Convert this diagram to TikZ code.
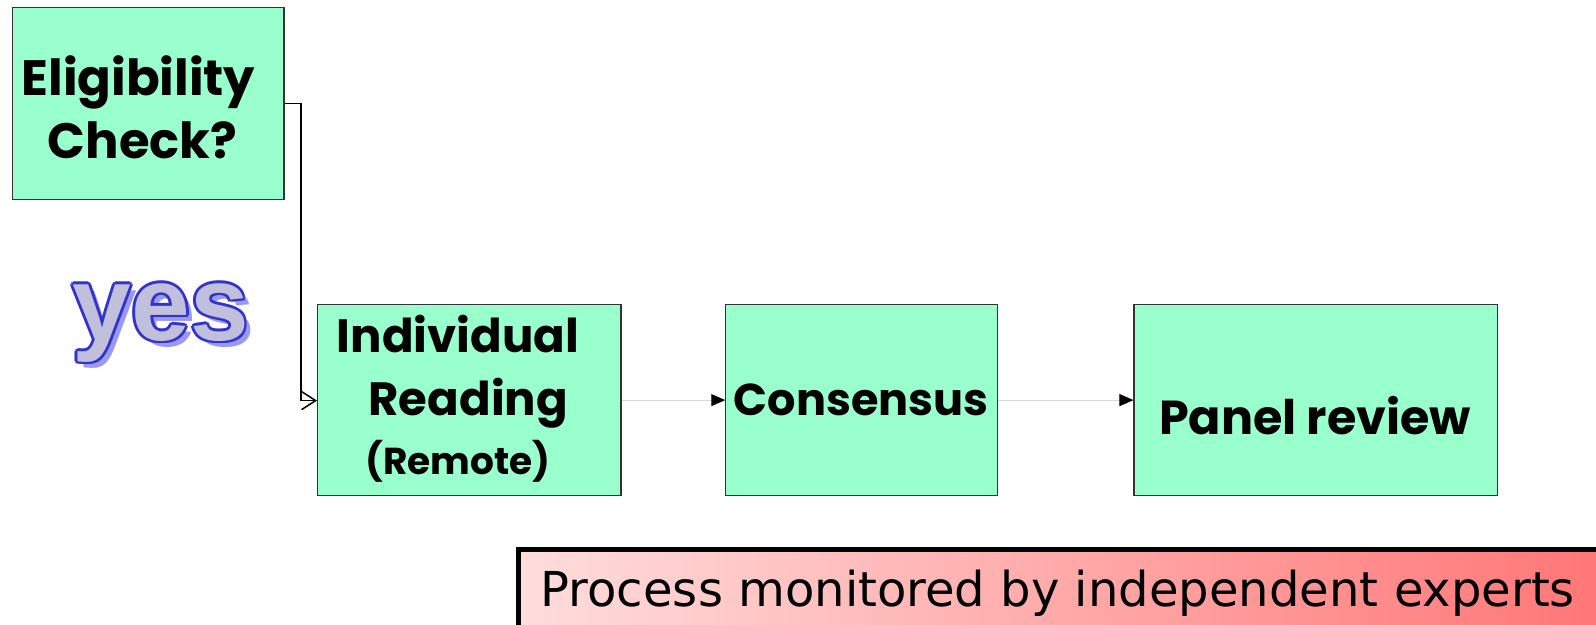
\documentclass[tikz,border=0pt]{standalone}
\usepackage{fontspec}
\usetikzlibrary{arrows.meta}
\newfontfamily\comicfont{Poppins}
\newfontfamily\wordfont{Liberation Sans}
\newfontfamily\plainfont{DejaVu Sans}
\definecolor{mint}{HTML}{99FFCC}
\definecolor{boxline}{HTML}{333333}
\definecolor{yesfill}{HTML}{C0C0DC}
\definecolor{yesline}{HTML}{3333CC}
\definecolor{yesshadow}{HTML}{9999EE}
\definecolor{pinkL}{HTML}{FFDDDD}
\definecolor{pinkR}{HTML}{FF7777}
\tikzset{
  stepbox/.style={draw=boxline, line width=1.2bp, fill=mint, inner sep=0pt},
  steptext/.style={inner sep=0pt, align=center, font=\comicfont\bfseries\fontsize{#1}{62}\selectfont},
  flowline/.style={draw=black!15, line width=1bp, -{Triangle[length=14bp,width=12bp,fill=black,color=black]}},
  yestext/.style={font=\wordfont\bfseries\fontsize{104}{104}\selectfont, inner sep=0pt}
}
\begin{document}
\begin{tikzpicture}[x=1bp, y=-1bp, scale=1.01786, every node/.append style={transform shape}]
\useasboundingbox (0,0) rectangle (1568,614);
\begin{scope}
\clip (0,0) rectangle (1568,614);
% boxes
\node[stepbox, minimum width=267bp, minimum height=189bp] (elig) at (145.5,101.5) {};
\node[steptext=49] (eligtext) at (136,105) {Eligibility\\ \hspace*{8bp}Check?};
\node[stepbox, minimum width=298bp, minimum height=188bp] (indiv) at (461,393) {};
\node[steptext=46] (indivtext) at (450,392) {Individual\\ \hspace*{20bp}Reading\\[-4bp] {\fontsize{37}{44}\selectfont(Remote)}};
\node[stepbox, minimum width=267bp, minimum height=188bp] (cons) at (846.5,393) {};
\node[steptext=44] (constext) at (846,393) {Consensus};
\node[stepbox, minimum width=357bp, minimum height=188bp] (panel) at (1292.5,393) {};
\node[steptext=47] (paneltext) at (1292,408) {Panel review};
% connectors
\coordinate (bend1) at (295.5,101.5);
\coordinate (bend2) at (295.5,393.5);
\draw[line width=1.5bp, -{Straight Barb[length=14bp,width=18bp,line width=1.5bp]}] (elig.east |- bend1) -- (bend1) -- (bend2) -- (indiv.west |- bend2);
\draw[flowline] (indiv.east) -- (cons.west);
\draw[flowline] (cons.east) -- (panel.west);
% yes wordart
\node[yestext, text=yesshadow] (yesshadow) at (164,323) {yes};
\foreach \dx/\dy in {-2.8/0,2.8/0,0/-2.8,0/2.8,-2/-2,2/2,-2/2,2/-2}{
  \node[yestext, text=yesline] at (158+\dx,317+\dy) {yes};
}
\node[yestext, text=yesfill] (yes) at (158,317) {yes};
% bottom banner
\shade[left color=pinkL, right color=pinkR] (509,540) rectangle (1568,614);
\draw[line width=5bp] (509,614) -- (509,540) -- (1568,540);
\node[font=\plainfont\fontsize{47.4}{54}\selectfont, anchor=base west, inner sep=0pt] (note) at (531,596) {Process monitored by independent experts};
\end{scope}
\end{tikzpicture}
\end{document}
